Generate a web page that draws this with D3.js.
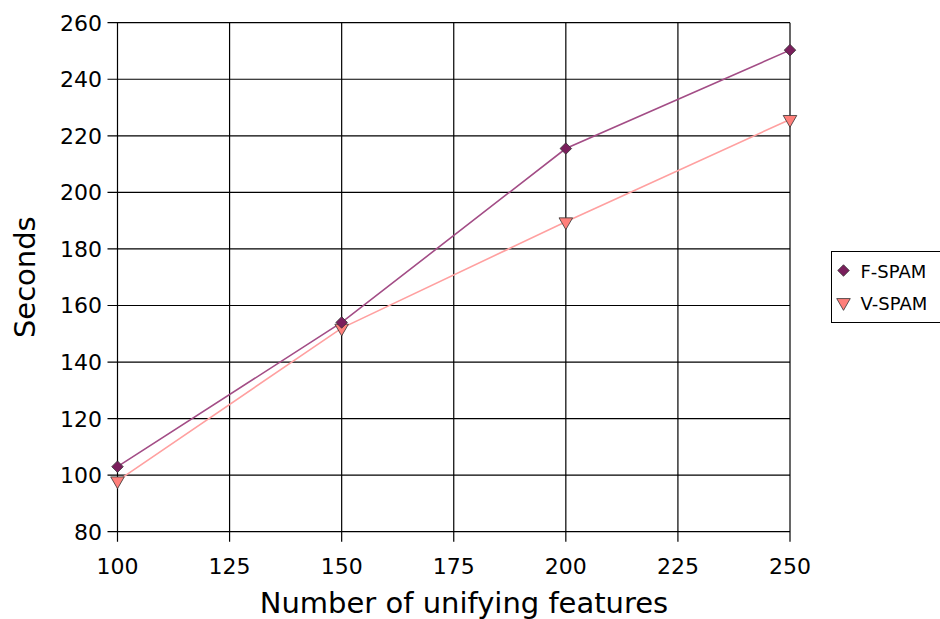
<!DOCTYPE html>
<html>
<head>
<meta charset="utf-8">
<script src="https://cdn.jsdelivr.net/npm/d3@7"></script>
<style>
  body { margin: 0; background: #fff; }
  text { font-family: "DejaVu Sans", sans-serif; fill: #000; }
</style>
</head>
<body>
<svg></svg>
<script>
// values
const features = [100, 150, 200, 250];
const fSpam = [103, 154, 215.5, 250.3];
const vSpam = [98, 152, 189.6, 225.8];
const xTicks = [100, 125, 150, 175, 200, 225, 250];
const yTicks = [80, 100, 120, 140, 160, 180, 200, 220, 240, 260];
const seriesNames = ["F-SPAM", "V-SPAM"];

const width = 940, height = 619;
const svg = d3.select("svg").attr("width", width).attr("height", height);

const x = d3.scaleLinear().domain([100, 250]).range([117.5, 790]);
const y = d3.scaleLinear().domain([80, 260]).range([531.7, 22.7]);

// grid lines (they also serve as the axes)
svg.append("g").selectAll("line")
  .data(yTicks).enter().append("line")
  .attr("x1", x(100) - 10).attr("x2", x(250))
  .attr("y1", d => y(d)).attr("y2", d => y(d))
  .attr("stroke", "#000").attr("stroke-width", 1.2);

svg.append("g").selectAll("line")
  .data(xTicks).enter().append("line")
  .attr("x1", d => x(d)).attr("x2", d => x(d))
  .attr("y1", y(260)).attr("y2", y(80) + 10)
  .attr("stroke", "#000").attr("stroke-width", 1.2);

// tick labels
svg.append("g").selectAll("text")
  .data(yTicks).enter().append("text")
  .attr("x", 102).attr("y", d => y(d) + 8)
  .attr("text-anchor", "end")
  .style("font-size", "22px")
  .text(d => d);

svg.append("g").selectAll("text")
  .data(xTicks).enter().append("text")
  .attr("x", d => x(d)).attr("y", 574)
  .attr("text-anchor", "middle")
  .style("font-size", "22px")
  .text(d => d);

// axis titles
svg.append("text")
  .attr("x", 464).attr("y", 613)
  .attr("text-anchor", "middle")
  .style("font-size", "29px")
  .text("Number of unifying features");

svg.append("text")
  .attr("transform", "translate(35," + y(170) + ") rotate(-90)")
  .attr("text-anchor", "middle")
  .style("font-size", "29px")
  .text("Seconds");

const line = d3.line()
  .x((d, i) => x(features[i]))
  .y(d => y(d));

const colors = {
  "F-SPAM": { line: "#a34d86", fill: "#7a1f5c" },
  "V-SPAM": { line: "#ffa0a0", fill: "#ff7f7a" }
};

const diamond = d3.symbol().type(d3.symbolDiamond2).size(85);
const tri = d3.symbol().type(d3.symbolTriangle).size(80);

// V-SPAM first so F-SPAM sits on top
svg.append("path").datum(vSpam)
  .attr("d", line).attr("fill", "none")
  .attr("stroke", colors["V-SPAM"].line).attr("stroke-width", 1.6);
svg.append("path").datum(fSpam)
  .attr("d", line).attr("fill", "none")
  .attr("stroke", colors["F-SPAM"].line).attr("stroke-width", 1.6);

svg.append("g").selectAll("path")
  .data(vSpam).enter().append("path")
  .attr("d", tri)
  .attr("transform", (d, i) => "translate(" + x(features[i]) + "," + y(d) + ") rotate(180)")
  .attr("fill", colors["V-SPAM"].fill).attr("stroke", "#333").attr("stroke-width", 0.8);

svg.append("g").selectAll("path")
  .data(fSpam).enter().append("path")
  .attr("d", diamond)
  .attr("transform", (d, i) => "translate(" + x(features[i]) + "," + y(d) + ")")
  .attr("fill", colors["F-SPAM"].fill).attr("stroke", "#333").attr("stroke-width", 0.8);

// legend
const lg = svg.append("g").attr("transform", "translate(831.5,251.5)");
lg.append("rect")
  .attr("width", 120).attr("height", 71)
  .attr("fill", "#fff").attr("stroke", "#000").attr("stroke-width", 1);

const items = lg.selectAll("g.item")
  .data(seriesNames).enter().append("g").attr("class", "item")
  .attr("transform", (d, i) => "translate(0," + (19 + i * 32) + ")");

items.append("path")
  .attr("d", (d, i) => i === 0 ? diamond() : tri())
  .attr("transform", (d, i) => "translate(12,0)" + (i === 1 ? " rotate(180)" : ""))
  .attr("fill", d => colors[d].fill).attr("stroke", "#333").attr("stroke-width", 0.8);

items.append("text")
  .attr("x", 29).attr("y", 7)
  .style("font-size", "18px")
  .text(d => d);
</script>
</body>
</html>
